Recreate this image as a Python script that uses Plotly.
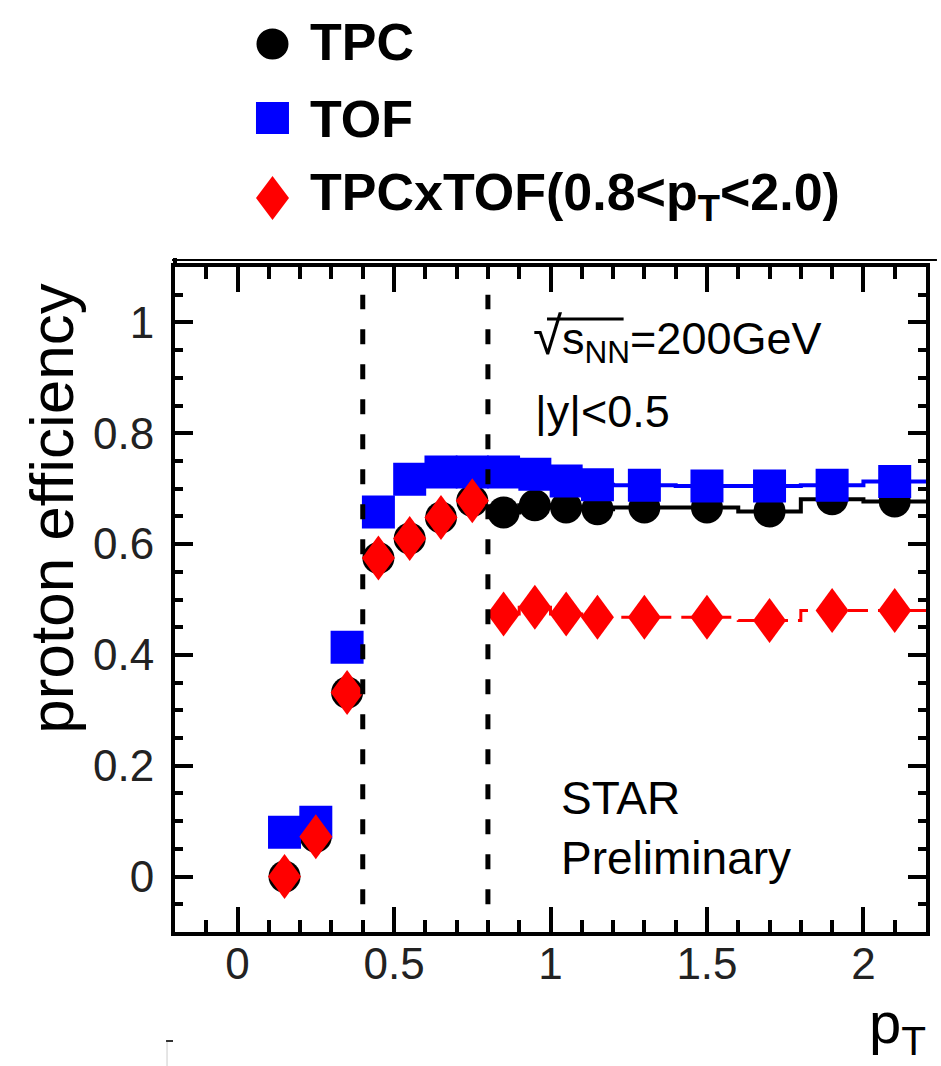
import plotly.graph_objects as go

# ---------------- data ----------------
pt = [0.15, 0.25, 0.35, 0.45, 0.55, 0.65, 0.75, 0.85, 0.95, 1.05, 1.15, 1.3, 1.5, 1.7, 1.9, 2.1]
eff_tpc = [0.0, 0.072, 0.332, 0.575, 0.61, 0.648, 0.678,
           0.657, 0.670, 0.666, 0.663, 0.666, 0.666, 0.659, 0.681, 0.677]
eff_tof = [0.08, 0.098, 0.414, 0.658, 0.717, 0.73, 0.73,
           0.73, 0.726, 0.714, 0.707, 0.706, 0.705, 0.705, 0.706, 0.713]
eff_tpcxtof = [0.0, 0.072, 0.332, 0.575, 0.61, 0.648, 0.678,
               0.474, 0.486, 0.474, 0.468, 0.468, 0.468, 0.462, 0.480, 0.480]
hist_edges = [0.8, 0.9, 1.0, 1.1, 1.2, 1.4, 1.6, 1.8, 2.0, 2.2]   # bins of the pT>0.8 histograms
cut_pt = [0.4, 0.8]
legend_labels = ["TPC", "TOF", "TPCxTOF(0.8&lt;p<sub>T</sub>&lt;2.0)"]

# ---------------- geometry helpers ----------------
W, H = 941, 1066
ML, MR, MT, MB = 175, 11, 267, 134
PW, PH = W - ML - MR, H - MT - MB


def px(x):
    return (x - ML) / PW


def py(y):
    return (H - MB - y) / PH


BLACK, BLUE, RED = "#000000", "#0000ff", "#ff0000"
FONT = "Liberation Sans, Arial, Helvetica, sans-serif"
DIAMOND = "M0,22.5L16.5,0L0,-22.5L-16.5,0Z"

n_low = len(pt) - (len(hist_edges) - 1)   # points below the histogram range


def hist_y(vals):
    v = vals[n_low:]
    return v + [v[-1]]


fig = go.Figure()

# TPC
fig.add_trace(go.Scatter(x=hist_edges, y=hist_y(eff_tpc), mode="lines", line_shape="hv",
                         line=dict(color=BLACK, width=4), showlegend=False, hoverinfo="skip"))
fig.add_trace(go.Scatter(x=pt, y=eff_tpc, mode="markers", name="TPC",
                         marker=dict(symbol="circle", size=32, color=BLACK, line=dict(width=0)),
                         showlegend=False))
# TOF
fig.add_trace(go.Scatter(x=hist_edges, y=hist_y(eff_tof), mode="lines", line_shape="hv",
                         line=dict(color=BLUE, width=4), showlegend=False, hoverinfo="skip"))
fig.add_trace(go.Scatter(x=pt, y=eff_tof, mode="markers", name="TOF",
                         marker=dict(symbol="square", size=33, color=BLUE, line=dict(width=0)),
                         showlegend=False))
# TPCxTOF
fig.add_trace(go.Scatter(x=hist_edges, y=hist_y(eff_tpcxtof), mode="lines", line_shape="hv",
                         line=dict(color=RED, width=3, dash="20px,10px"),
                         showlegend=False, hoverinfo="skip"))
fig.add_trace(go.Scatter(x=pt, y=eff_tpcxtof, mode="markers", name="TPCxTOF",
                         marker=dict(symbol="diamond", size=24, color=RED, line=dict(width=0)),
                         showlegend=False))

shapes = []
# exact tall-diamond outline of each TPCxTOF point (anchored at the data values)
for xv, yv in zip(pt, eff_tpcxtof):
    shapes.append(dict(type="path", xref="x", yref="y", xsizemode="pixel", ysizemode="pixel",
                       xanchor=xv, yanchor=yv, path=DIAMOND, fillcolor=RED,
                       line=dict(width=0), layer="above"))
# vertical dashed cut lines
for c in cut_pt:
    shapes.append(dict(type="line", xref="x", yref="y", x0=c, x1=c, y0=-0.05, y1=1.05,
                       line=dict(color=BLACK, width=5, dash="15px,20px"), layer="above"))
# extra frame line above plot
shapes.append(dict(type="line", xref="paper", yref="paper", x0=px(172), x1=px(941),
                   y0=py(260), y1=py(260), line=dict(color=BLACK, width=2)))
shapes.append(dict(type="line", xref="paper", yref="paper", x0=px(175), x1=px(175),
                   y0=py(258), y1=py(267), line=dict(color=BLACK, width=4)))
# overline of the square root
shapes.append(dict(type="line", xref="paper", yref="paper", x0=px(549), x1=px(626),
                   y0=py(319), y1=py(319), line=dict(color=BLACK, width=3)))
# small artefact bottom-left
shapes.append(dict(type="line", xref="paper", yref="paper", x0=px(167), x1=px(167),
                   y0=py(1041), y1=py(1066), line=dict(color="#cccccc", width=1)))
shapes.append(dict(type="line", xref="paper", yref="paper", x0=px(166), x1=px(173),
                   y0=py(1041), y1=py(1041), line=dict(color="#333333", width=2)))

# legend glyphs
rows = [44, 118, 198]
lx = px(273)
shapes.append(dict(type="circle", xref="paper", yref="paper", xsizemode="pixel", ysizemode="pixel",
                   xanchor=lx, yanchor=py(rows[0]), x0=-16, x1=16, y0=-15.5, y1=15.5,
                   fillcolor=BLACK, line=dict(width=0)))
shapes.append(dict(type="rect", xref="paper", yref="paper", xsizemode="pixel", ysizemode="pixel",
                   xanchor=lx, yanchor=py(rows[1]), x0=-16.5, x1=16.5, y0=-16, y1=16,
                   fillcolor=BLUE, line=dict(width=0)))
shapes.append(dict(type="path", xref="paper", yref="paper", xsizemode="pixel", ysizemode="pixel",
                   xanchor=lx, yanchor=py(rows[2]), path="M0,22L16.5,0L0,-22L-16.5,0Z",
                   fillcolor=RED, line=dict(width=0)))

annotations = []
text_rows = [42, 119, 196]
for lab, r in zip(legend_labels, text_rows):
    annotations.append(dict(text="<b>" + lab + "</b>", xref="paper", yref="paper",
                            x=px(309), y=py(r), xanchor="left", yanchor="middle", showarrow=False,
                            font=dict(family=FONT, size=52, color=BLACK)))

annotations += [
    dict(text="proton efficiency", xref="paper", yref="paper", x=px(50), y=py(509),
         xanchor="center", yanchor="middle", textangle=-90, showarrow=False,
         font=dict(family=FONT, size=62, color=BLACK)),
    dict(text="p<sub>T</sub>", xref="paper", yref="paper", x=px(932), y=py(1027),
         xanchor="right", yanchor="middle", showarrow=False,
         font=dict(family=FONT, size=58, color=BLACK)),
    dict(text="<span style='font-size:53px'>√</span>s<sub>NN</sub>=200GeV",
         xref="paper", yref="paper", x=px(533), y=py(338), xanchor="left", yanchor="middle",
         showarrow=False, font=dict(family=FONT, size=45, color=BLACK)),
    dict(text="|y|&lt;0.5", xref="paper", yref="paper", x=px(535), y=py(411),
         xanchor="left", yanchor="middle", showarrow=False,
         font=dict(family=FONT, size=45, color=BLACK)),
    dict(text="STAR<br>Preliminary", xref="paper", yref="paper", x=px(561), y=py(828),
         xanchor="left", yanchor="middle", align="left", showarrow=False,
         font=dict(family=FONT, size=46, color=BLACK)),
]

axis_common = dict(showgrid=False, zeroline=False, showline=True, linecolor=BLACK, linewidth=4,
                   mirror="ticks", ticks="inside", tickcolor=BLACK, tickwidth=4,
                   tickfont=dict(family=FONT, size=44, color="#222222"))

fig.update_layout(
    width=W, height=H,
    margin=dict(l=ML, r=MR, t=MT, b=MB, pad=0),
    paper_bgcolor="white", plot_bgcolor="white",
    xaxis=dict(range=[-0.2, 2.2], tick0=0, dtick=0.5, ticklen=25,
               minor=dict(dtick=0.1, ticks="inside", ticklen=12, tickwidth=4, tickcolor=BLACK, showgrid=False),
               ticklabelstandoff=-10, **axis_common),
    yaxis=dict(range=[-0.1, 1.1], tick0=0, dtick=0.2, ticklen=18,
               minor=dict(dtick=0.05, ticks="inside", ticklen=8, tickwidth=4, tickcolor=BLACK, showgrid=False),
               ticklabelstandoff=8, **axis_common),
    shapes=shapes, annotations=annotations, showlegend=False,
)

fig.write_html("out.html")
